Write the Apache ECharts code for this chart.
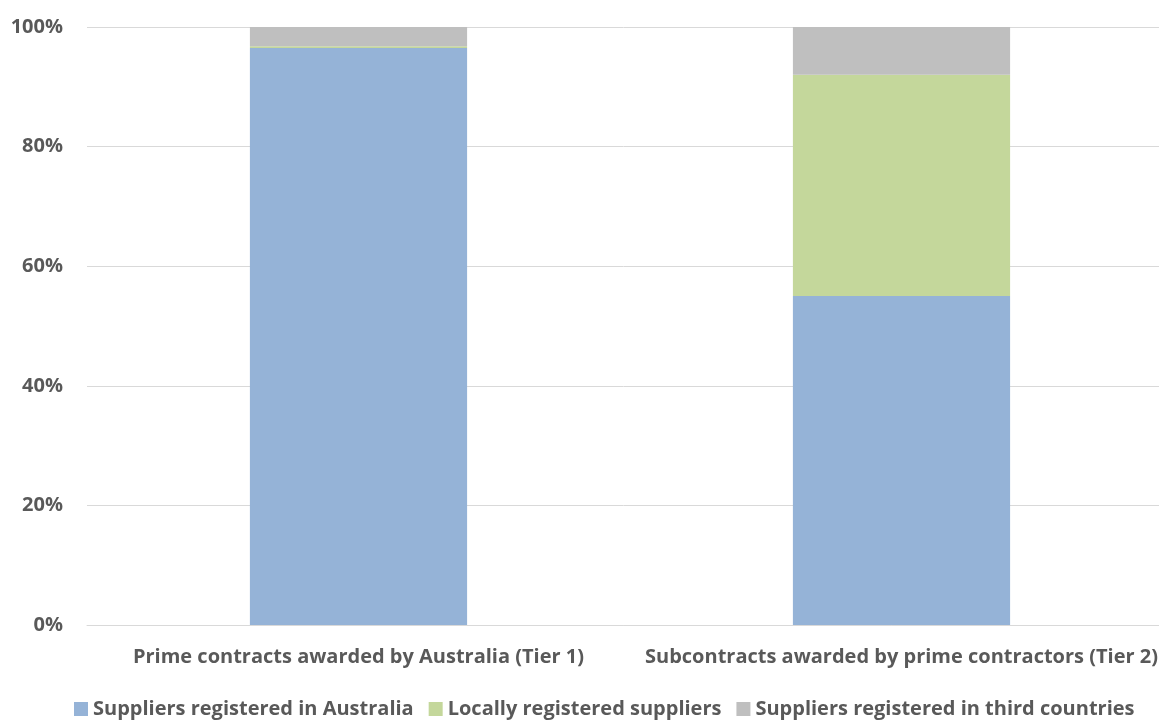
<!DOCTYPE html>
<html>
<head>
<meta charset="utf-8">
<script src="https://cdn.jsdelivr.net/npm/echarts@6/dist/echarts.min.js"></script>
<style>
  html, body { margin: 0; padding: 0; background: #fff; }
  #chart { width: 1159px; height: 720px; }
</style>
</head>
<body>
<div id="chart"></div>
<script>
const categories = [
  'Prime contracts awarded by Australia (Tier 1)',
  'Subcontracts awarded by prime contractors (Tier 2)'
];
const australia = [96.5, 55.0];
const local = [0.3, 37.0];
const thirdCountries = [3.2, 8.0];
const yTicks = [0, 20, 40, 60, 80, 100];

const font = 'Open Sans';
const textColor = '#595959';

const chart = echarts.init(document.getElementById('chart'));
chart.setOption({
  animation: false,
  grid: { left: 87, width: 1086, top: 27, bottom: 95, containLabel: false, outerBoundsMode: 'none' },
  legend: {
    bottom: 1,
    left: 74,
    padding: 0,
    itemWidth: 14,
    itemHeight: 14,
    itemGap: 15,
    icon: 'rect',
    textStyle: { fontFamily: font, fontWeight: 'bold', fontSize: 20, color: textColor }
  },
  xAxis: {
    type: 'category',
    data: categories,
    axisTick: { show: false },
    axisLine: { lineStyle: { color: '#d9d9d9', width: 1 } },
    axisLabel: { fontFamily: font, fontWeight: 'bold', fontSize: 20, color: textColor, margin: 22,
      interval: 0, hideOverlap: false }
  },
  yAxis: {
    type: 'value',
    min: 0,
    max: 100,
    interval: 20,
    axisLine: { show: false },
    axisTick: { show: false },
    splitLine: { lineStyle: { color: '#d9d9d9', width: 1 } },
    axisLabel: {
      fontFamily: font, fontWeight: 'bold', fontSize: 20, color: textColor, margin: 24,
      formatter: v => yTicks.includes(v) ? v + '%' : ''
    }
  },
  series: [
    { name: 'Suppliers registered in Australia', type: 'bar', stack: 's', data: australia,
      barWidth: '40%', itemStyle: { color: '#95b3d7' } },
    { name: 'Locally registered suppliers', type: 'bar', stack: 's', data: local,
      barWidth: '40%', itemStyle: { color: '#c4d79b' } },
    { name: 'Suppliers registered in third countries', type: 'bar', stack: 's', data: thirdCountries,
      barWidth: '40%', itemStyle: { color: '#bfbfbf' } }
  ]
});
</script>
</body>
</html>
